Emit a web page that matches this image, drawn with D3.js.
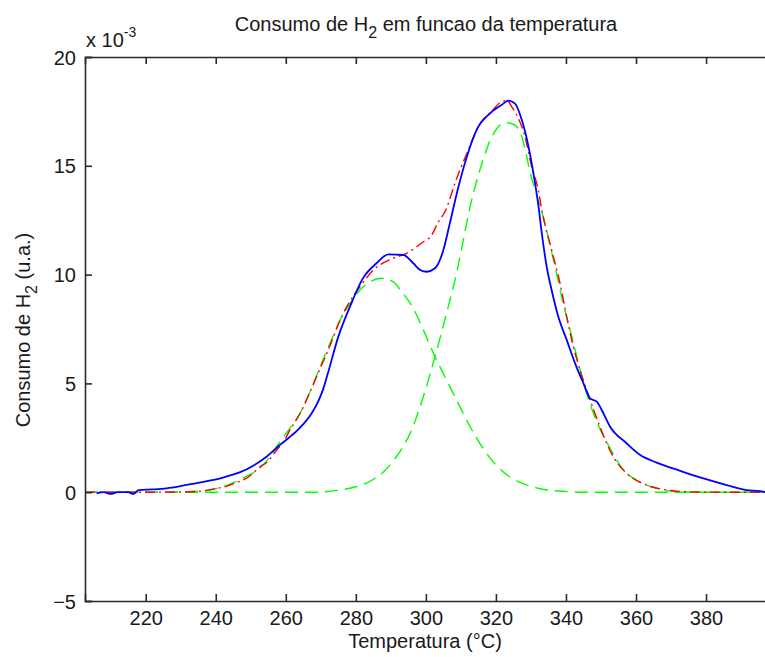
<!DOCTYPE html>
<html>
<head>
<meta charset="utf-8">
<script src="https://cdn.jsdelivr.net/npm/d3@7"></script>
<style>
  html, body { margin: 0; padding: 0; background: #fff; }
  svg { display: block; }
  text { font-family: "Liberation Sans", Arial, sans-serif; fill: #1a1a1a; }
</style>
</head>
<body>
<svg id="chart" width="765" height="657"></svg>
<script>
// All consumption values are in units of 10^-3 (u.a.)

// Measured TPR signal (blue, solid)
const medidoTemp = [206.0, 208.0, 210.0, 212.0, 215.0, 216.5, 218.0, 222.0, 226.0, 230.0, 234.6, 239.0,
  243.0, 247.0, 250.7, 254.5, 258.3, 260.7, 264.1, 267.4, 269.2, 270.7, 272.0, 275.0, 278.3, 282.1, 285.9,
  289.3, 293.6, 296.4, 298.5, 300.2, 302.6, 305.0, 306.9, 309.3, 311.7, 314.5, 318.3, 321.6, 323.5,
  325.4, 327.4, 329.3, 330.7, 332.1, 333.1, 334.5, 335.9, 337.8, 340.2, 342.6, 345.0, 346.9, 348.8,
  350.2, 352.6, 357.3, 361.2, 365.9, 372.6, 378.3, 385.9, 391.6, 395.4, 397.0];
const medidoValor = [-0.05, 0.0, -0.08, 0.0, 0.0, -0.08, 0.1, 0.13, 0.18, 0.28, 0.42, 0.55,
  0.72, 0.92, 1.22, 1.63, 2.17, 2.48, 2.97, 3.63, 4.15, 4.75, 5.45, 7.15, 8.52, 9.85, 10.52,
  10.93, 10.9, 10.52, 10.2, 10.13, 10.29, 11.13, 12.4, 14.04, 15.42, 16.65, 17.41, 17.79, 17.99,
  17.87, 17.1, 15.88, 14.66, 13.2, 11.9, 10.36, 9.29, 8.07, 7.0, 5.92, 5.0, 4.31, 4.16,
  3.78, 3.01, 2.25, 1.71, 1.36, 0.98, 0.68, 0.33, 0.1, 0.05, 0.0];

// Fitted sum of both peaks (red, dash-dot)
const ajusteTemp = [202.67, 210.0, 220.0, 230.0, 236.0, 238.4, 241.0, 243.1, 245.5, 248.3, 250.5, 252.6,
  254.5, 257.4, 259.3, 261.2, 264.1, 266.9, 269.3, 271.7, 276.4, 281.2, 285.0, 290.7, 294.5, 299.3,
  301.7, 303.1, 305.9, 308.3, 311.7, 315.5, 318.8, 321.6, 323.1, 324.5, 326.4, 328.3, 330.2, 332.1,
  333.1, 335.9, 338.3, 340.2, 342.1, 344.0, 346.9, 349.7, 353.5, 357.3, 363.0, 368.8, 375.4, 385.0, 397.0];
const ajusteValor = [0.0, 0.0, 0.0, 0.01, 0.05, 0.12, 0.2, 0.27, 0.42, 0.6, 0.85, 1.17,
  1.35, 1.94, 2.3, 2.86, 3.63, 4.6, 5.5, 6.38, 8.22, 9.45, 10.21, 10.75, 10.98, 11.51,
  11.82, 12.28, 13.05, 14.2, 15.57, 16.95, 17.5, 17.95, 17.99, 17.72, 17.18, 16.34, 14.96, 13.89,
  12.97, 11.13, 9.6, 8.07, 6.69, 5.62, 4.24, 3.01, 1.63, 0.87, 0.33, 0.1, 0.02, 0.0, 0.0];

// First fitted peak (green, dashed)
const pico1Temp = [202.67, 225.0, 236.0, 239.0, 242.6, 246.0, 249.0, 252.6, 255.5, 258.3, 261.0, 264.1,
  267.9, 269.8, 272.5, 275.5, 278.5, 281.2, 284.0, 287.4, 290.7, 293.1, 296.4, 299.3, 302.6, 305.9,
  309.7, 312.1, 316.0, 320.0, 324.0, 328.0, 332.0, 336.0, 340.0, 345.0, 397.0];
const pico1Valor = [0.0, 0.0, 0.05, 0.12, 0.28, 0.5, 0.75, 1.1, 1.65, 2.32, 2.9, 3.63,
  5.0, 5.77, 6.8, 7.91, 8.7, 9.29, 9.67, 9.83, 9.67, 9.21, 8.45, 7.45, 6.23, 5.16,
  3.93, 3.17, 2.1, 1.25, 0.7, 0.38, 0.18, 0.08, 0.03, 0.0, 0.0];

// Second fitted peak (green, dashed)
const pico2Temp = [202.67, 268.0, 275.5, 280.0, 284.6, 288.0, 291.2, 293.5, 295.9, 299.3, 302.6, 305.9,
  308.8, 311.2, 312.6, 314.5, 316.4, 318.3, 320.0, 321.2, 323.1, 325.4, 327.4, 328.8, 329.8, 331.2, 332.6,
  333.5, 334.9, 337.3, 339.2, 341.2, 343.1, 345.9, 348.8, 352.6, 356.4, 360.2, 365.9, 370.0, 375.0, 397.0];
const pico2Valor = [0.0, 0.0, 0.1, 0.25, 0.55, 0.95, 1.55, 2.1, 2.85, 4.41, 6.23, 8.22,
  10.1, 12.0, 13.1, 14.3, 15.3, 16.15, 16.65, 16.88, 16.98, 16.87, 16.34, 15.42, 14.66, 13.89, 13.12,
  12.66, 11.74, 10.06, 8.68, 7.45, 6.23, 4.54, 3.24, 2.02, 1.02, 0.55, 0.18, 0.05, 0.0, 0.0];

// Axis settings
const xLimites = [202.67, 397.0];
const yLimites = [-5, 20];
const xTicks = [220, 240, 260, 280, 300, 320, 340, 360, 380];
const yTicks = [-5, 0, 5, 10, 15, 20];

const svg = d3.select("#chart");
const plot = { left: 85, right: 765.6, top: 57, bottom: 601 };

const x = d3.scaleLinear().domain(xLimites).range([plot.left, plot.right]);
const y = d3.scaleLinear().domain(yLimites).range([plot.bottom, plot.top]);

svg.append("defs").append("clipPath").attr("id", "area")
  .append("rect")
  .attr("x", plot.left).attr("y", plot.top)
  .attr("width", plot.right - plot.left).attr("height", plot.bottom - plot.top);

const linha = d3.line()
  .x(d => x(d[0]))
  .y(d => y(d[1]))
  .curve(d3.curveMonotoneX);

const pares = (t, v) => t.map((ti, i) => [ti, v[i]]);

const curvas = svg.append("g").attr("clip-path", "url(#area)");

curvas.append("path")
  .datum(pares(pico1Temp, pico1Valor))
  .attr("d", linha)
  .attr("fill", "none").attr("stroke", "#00ff00").attr("stroke-width", 1.4)
  .attr("stroke-dasharray", "13,7");

curvas.append("path")
  .datum(pares(pico2Temp, pico2Valor))
  .attr("d", linha)
  .attr("fill", "none").attr("stroke", "#00ff00").attr("stroke-width", 1.4)
  .attr("stroke-dasharray", "13,7");

curvas.append("path")
  .datum(pares(ajusteTemp, ajusteValor))
  .attr("d", linha)
  .attr("fill", "none").attr("stroke", "#ff0000").attr("stroke-width", 1.4)
  .attr("stroke-dasharray", "10,4,2,4");

curvas.append("path")
  .datum(pares(medidoTemp, medidoValor))
  .attr("d", linha)
  .attr("fill", "none").attr("stroke", "#0000ff").attr("stroke-width", 1.8);

// Axes: ticks point inward, mirrored on the top edge
const cor = "#2a2a2a";
const tickLen = 7;

const xAxis = d3.axisBottom(x).tickValues(xTicks).tickSize(-tickLen).tickPadding(12)
  .tickFormat(d3.format("d"));
const gx = svg.append("g").attr("transform", `translate(0,${plot.bottom})`).call(xAxis);

const xTop = d3.axisTop(x).tickValues(xTicks).tickSize(-tickLen).tickFormat("");
const gxt = svg.append("g").attr("transform", `translate(0,${plot.top})`).call(xTop);

const yAxis = d3.axisLeft(y).tickValues(yTicks).tickSize(-tickLen).tickPadding(16)
  .tickFormat(d3.format("d"));
const gy = svg.append("g").attr("transform", `translate(${plot.left},0)`).call(yAxis);

[gx, gxt, gy].forEach(g => {
  g.select(".domain").attr("stroke", cor).attr("stroke-width", 1.6);
  g.selectAll(".tick line").attr("stroke", cor).attr("stroke-width", 1.6);
  g.selectAll(".tick text")
    .attr("font-size", 20)
    .attr("font-family", "'Liberation Sans', Arial, sans-serif")
    .attr("fill", "#1a1a1a");
});
gx.selectAll(".tick text").attr("dy", "0.71em").attr("y", 10);
gy.selectAll(".tick text").attr("x", -9).attr("dy", "0.35em");

// Exponent label above the y axis
const expo = svg.append("text").attr("x", 86).attr("y", 47).attr("font-size", 20);
expo.append("tspan").text("x 10");
expo.append("tspan").attr("font-size", 14).attr("dy", -10).text("-3");

// Title
const titulo = svg.append("text")
  .attr("x", 426).attr("y", 31).attr("text-anchor", "middle").attr("font-size", 20);
titulo.append("tspan").text("Consumo de H");
titulo.append("tspan").attr("font-size", 16).attr("dy", 7).text("2");
titulo.append("tspan").attr("dy", -7).text(" em funcao da temperatura");

// X axis label
svg.append("text")
  .attr("x", 425).attr("y", 648).attr("text-anchor", "middle").attr("font-size", 20)
  .text("Temperatura (°C)");

// Y axis label
const yLabel = svg.append("text")
  .attr("transform", "translate(30,330) rotate(-90)")
  .attr("text-anchor", "middle").attr("font-size", 20);
yLabel.append("tspan").text("Consumo de H");
yLabel.append("tspan").attr("font-size", 16).attr("dy", 7).text("2");
yLabel.append("tspan").attr("dy", -7).text(" (u.a.)");
</script>
</body>
</html>
